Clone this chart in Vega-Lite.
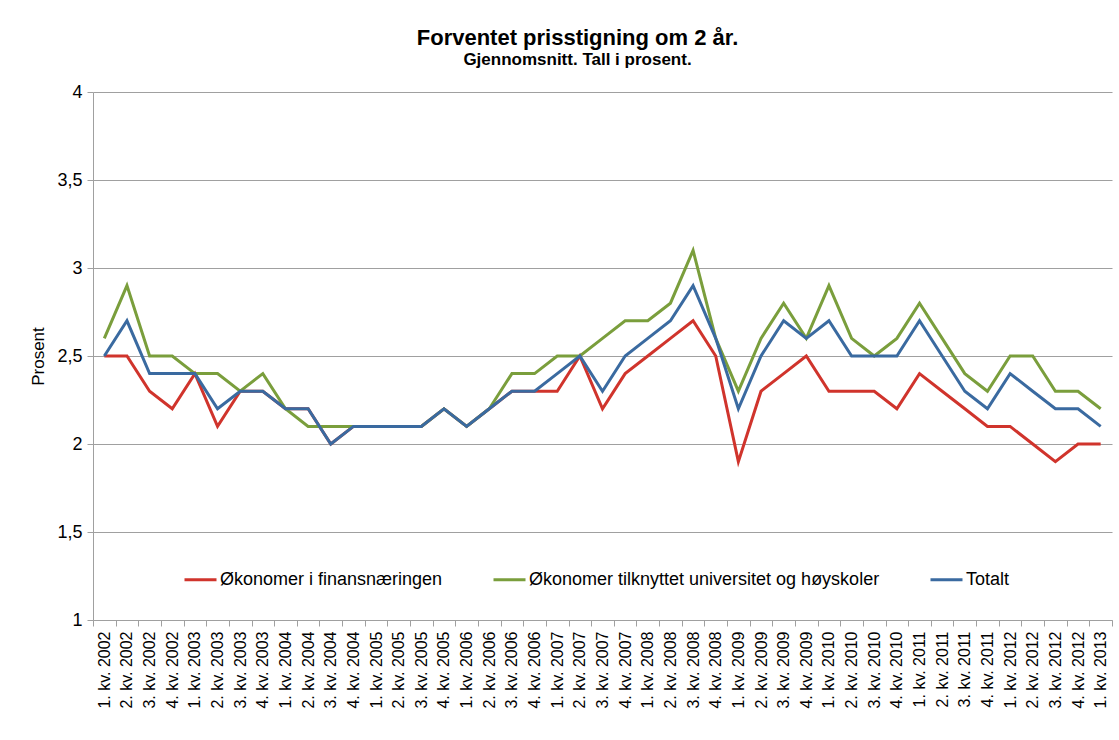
{
  "$schema": "https://vega.github.io/schema/vega-lite/v6.json",
  "width": 1019,
  "height": 528,
  "autosize": {"type": "none"},
  "padding": {"left": 93, "top": 92, "right": 7, "bottom": 120},
  "background": "white",
  "config": {"font": "Liberation Sans", "view": {"stroke": null}},
  "title": {
    "text": "Forventet prisstigning om 2 år.",
    "subtitle": "Gjennomsnitt.  Tall i prosent.",
    "anchor": "middle",
    "dx": -25,
    "offset": 14,
    "font": "Liberation Sans",
    "fontSize": 22,
    "fontWeight": "bold",
    "color": "#000000",
    "subtitleFont": "Liberation Sans",
    "subtitleFontSize": 17,
    "subtitleFontWeight": "bold",
    "subtitleColor": "#000000",
    "subtitlePadding": 2
  },
  "data": {
    "values": [
      {"kv": "1. kv. 2002", "Økonomer i finansnæringen": 2.5, "Økonomer tilknyttet universitet og høyskoler": 2.6, "Totalt": 2.5},
      {"kv": "2. kv. 2002", "Økonomer i finansnæringen": 2.5, "Økonomer tilknyttet universitet og høyskoler": 2.9, "Totalt": 2.7},
      {"kv": "3. kv. 2002", "Økonomer i finansnæringen": 2.3, "Økonomer tilknyttet universitet og høyskoler": 2.5, "Totalt": 2.4},
      {"kv": "4. kv. 2002", "Økonomer i finansnæringen": 2.2, "Økonomer tilknyttet universitet og høyskoler": 2.5, "Totalt": 2.4},
      {"kv": "1. kv. 2003", "Økonomer i finansnæringen": 2.4, "Økonomer tilknyttet universitet og høyskoler": 2.4, "Totalt": 2.4},
      {"kv": "2. kv. 2003", "Økonomer i finansnæringen": 2.1, "Økonomer tilknyttet universitet og høyskoler": 2.4, "Totalt": 2.2},
      {"kv": "3. kv. 2003", "Økonomer i finansnæringen": 2.3, "Økonomer tilknyttet universitet og høyskoler": 2.3, "Totalt": 2.3},
      {"kv": "4. kv. 2003", "Økonomer i finansnæringen": 2.3, "Økonomer tilknyttet universitet og høyskoler": 2.4, "Totalt": 2.3},
      {"kv": "1. kv. 2004", "Økonomer i finansnæringen": 2.2, "Økonomer tilknyttet universitet og høyskoler": 2.2, "Totalt": 2.2},
      {"kv": "2. kv. 2004", "Økonomer i finansnæringen": 2.2, "Økonomer tilknyttet universitet og høyskoler": 2.1, "Totalt": 2.2},
      {"kv": "3. kv. 2004", "Økonomer i finansnæringen": 2.0, "Økonomer tilknyttet universitet og høyskoler": 2.1, "Totalt": 2.0},
      {"kv": "4. kv. 2004", "Økonomer i finansnæringen": 2.1, "Økonomer tilknyttet universitet og høyskoler": 2.1, "Totalt": 2.1},
      {"kv": "1. kv. 2005", "Økonomer i finansnæringen": 2.1, "Økonomer tilknyttet universitet og høyskoler": 2.1, "Totalt": 2.1},
      {"kv": "2. kv. 2005", "Økonomer i finansnæringen": 2.1, "Økonomer tilknyttet universitet og høyskoler": 2.1, "Totalt": 2.1},
      {"kv": "3. kv. 2005", "Økonomer i finansnæringen": 2.1, "Økonomer tilknyttet universitet og høyskoler": 2.1, "Totalt": 2.1},
      {"kv": "4. kv. 2005", "Økonomer i finansnæringen": 2.2, "Økonomer tilknyttet universitet og høyskoler": 2.2, "Totalt": 2.2},
      {"kv": "1. kv. 2006", "Økonomer i finansnæringen": 2.1, "Økonomer tilknyttet universitet og høyskoler": 2.1, "Totalt": 2.1},
      {"kv": "2. kv. 2006", "Økonomer i finansnæringen": 2.2, "Økonomer tilknyttet universitet og høyskoler": 2.2, "Totalt": 2.2},
      {"kv": "3. kv. 2006", "Økonomer i finansnæringen": 2.3, "Økonomer tilknyttet universitet og høyskoler": 2.4, "Totalt": 2.3},
      {"kv": "4. kv. 2006", "Økonomer i finansnæringen": 2.3, "Økonomer tilknyttet universitet og høyskoler": 2.4, "Totalt": 2.3},
      {"kv": "1. kv. 2007", "Økonomer i finansnæringen": 2.3, "Økonomer tilknyttet universitet og høyskoler": 2.5, "Totalt": 2.4},
      {"kv": "2. kv. 2007", "Økonomer i finansnæringen": 2.5, "Økonomer tilknyttet universitet og høyskoler": 2.5, "Totalt": 2.5},
      {"kv": "3. kv. 2007", "Økonomer i finansnæringen": 2.2, "Økonomer tilknyttet universitet og høyskoler": 2.6, "Totalt": 2.3},
      {"kv": "4. kv. 2007", "Økonomer i finansnæringen": 2.4, "Økonomer tilknyttet universitet og høyskoler": 2.7, "Totalt": 2.5},
      {"kv": "1. kv. 2008", "Økonomer i finansnæringen": 2.5, "Økonomer tilknyttet universitet og høyskoler": 2.7, "Totalt": 2.6},
      {"kv": "2. kv. 2008", "Økonomer i finansnæringen": 2.6, "Økonomer tilknyttet universitet og høyskoler": 2.8, "Totalt": 2.7},
      {"kv": "3. kv. 2008", "Økonomer i finansnæringen": 2.7, "Økonomer tilknyttet universitet og høyskoler": 3.1, "Totalt": 2.9},
      {"kv": "4. kv. 2008", "Økonomer i finansnæringen": 2.5, "Økonomer tilknyttet universitet og høyskoler": 2.6, "Totalt": 2.6},
      {"kv": "1. kv. 2009", "Økonomer i finansnæringen": 1.9, "Økonomer tilknyttet universitet og høyskoler": 2.3, "Totalt": 2.2},
      {"kv": "2. kv. 2009", "Økonomer i finansnæringen": 2.3, "Økonomer tilknyttet universitet og høyskoler": 2.6, "Totalt": 2.5},
      {"kv": "3. kv. 2009", "Økonomer i finansnæringen": 2.4, "Økonomer tilknyttet universitet og høyskoler": 2.8, "Totalt": 2.7},
      {"kv": "4. kv. 2009", "Økonomer i finansnæringen": 2.5, "Økonomer tilknyttet universitet og høyskoler": 2.6, "Totalt": 2.6},
      {"kv": "1. kv. 2010", "Økonomer i finansnæringen": 2.3, "Økonomer tilknyttet universitet og høyskoler": 2.9, "Totalt": 2.7},
      {"kv": "2. kv. 2010", "Økonomer i finansnæringen": 2.3, "Økonomer tilknyttet universitet og høyskoler": 2.6, "Totalt": 2.5},
      {"kv": "3. kv. 2010", "Økonomer i finansnæringen": 2.3, "Økonomer tilknyttet universitet og høyskoler": 2.5, "Totalt": 2.5},
      {"kv": "4. kv. 2010", "Økonomer i finansnæringen": 2.2, "Økonomer tilknyttet universitet og høyskoler": 2.6, "Totalt": 2.5},
      {"kv": "1. kv. 2011", "Økonomer i finansnæringen": 2.4, "Økonomer tilknyttet universitet og høyskoler": 2.8, "Totalt": 2.7},
      {"kv": "2. kv. 2011", "Økonomer i finansnæringen": 2.3, "Økonomer tilknyttet universitet og høyskoler": 2.6, "Totalt": 2.5},
      {"kv": "3. kv. 2011", "Økonomer i finansnæringen": 2.2, "Økonomer tilknyttet universitet og høyskoler": 2.4, "Totalt": 2.3},
      {"kv": "4. kv. 2011", "Økonomer i finansnæringen": 2.1, "Økonomer tilknyttet universitet og høyskoler": 2.3, "Totalt": 2.2},
      {"kv": "1. kv. 2012", "Økonomer i finansnæringen": 2.1, "Økonomer tilknyttet universitet og høyskoler": 2.5, "Totalt": 2.4},
      {"kv": "2. kv. 2012", "Økonomer i finansnæringen": 2.0, "Økonomer tilknyttet universitet og høyskoler": 2.5, "Totalt": 2.3},
      {"kv": "3. kv. 2012", "Økonomer i finansnæringen": 1.9, "Økonomer tilknyttet universitet og høyskoler": 2.3, "Totalt": 2.2},
      {"kv": "4. kv. 2012", "Økonomer i finansnæringen": 2.0, "Økonomer tilknyttet universitet og høyskoler": 2.3, "Totalt": 2.2},
      {"kv": "1. kv. 2013", "Økonomer i finansnæringen": 2.0, "Økonomer tilknyttet universitet og høyskoler": 2.2, "Totalt": 2.1}
    ]
  },
  "transform": [
    {"fold": ["Økonomer i finansnæringen", "Økonomer tilknyttet universitet og høyskoler", "Totalt"], "as": ["serie", "verdi"]}
  ],
  "mark": {"type": "line", "strokeWidth": 3, "strokeJoin": "miter"},
  "encoding": {
    "x": {
      "field": "kv",
      "type": "nominal",
      "sort": null,
      "scale": {"type": "band", "paddingInner": 0, "paddingOuter": 0},
      "axis": {
        "title": null,
        "tickBand": "extent",
        "labelAngle": -90,
        "labelFontSize": 16,
        "labelColor": "#000000",
        "labelPadding": 5,
        "tickSize": 6,
        "tickColor": "#A0A0A0",
        "domainColor": "#A0A0A0",
        "grid": false
      }
    },
    "y": {
      "field": "verdi",
      "type": "quantitative",
      "scale": {"domain": [1, 4], "nice": false, "zero": false},
      "axis": {
        "title": "Prosent",
        "titleFontSize": 17,
        "titleFontWeight": "normal",
        "titleColor": "#000000",
        "titlePadding": 9,
        "values": [1, 1.5, 2, 2.5, 3, 3.5, 4],
        "format": "~g",
        "labelExpr": "replace(datum.label, '.', ',')",
        "labelFontSize": 18,
        "labelColor": "#000000",
        "labelPadding": 5,
        "tickSize": 6,
        "tickColor": "#A0A0A0",
        "domainColor": "#A0A0A0",
        "gridColor": "#A0A0A0",
        "gridWidth": 1.2
      }
    },
    "color": {
      "field": "serie",
      "type": "nominal",
      "scale": {
        "domain": ["Økonomer i finansnæringen", "Økonomer tilknyttet universitet og høyskoler", "Totalt"],
        "range": ["#D0342C", "#7A9E3C", "#3A6AA0"]
      },
      "legend": {
        "title": null,
        "orient": "none",
        "direction": "horizontal",
        "legendX": 90,
        "legendY": 470,
        "symbolType": "stroke",
        "symbolSize": 1024,
        "symbolStrokeWidth": 3,
        "labelFontSize": 18,
        "labelColor": "#000000",
        "labelOffset": 2,
        "columnPadding": 44,
        "labelLimit": 500
      }
    }
  }
}
